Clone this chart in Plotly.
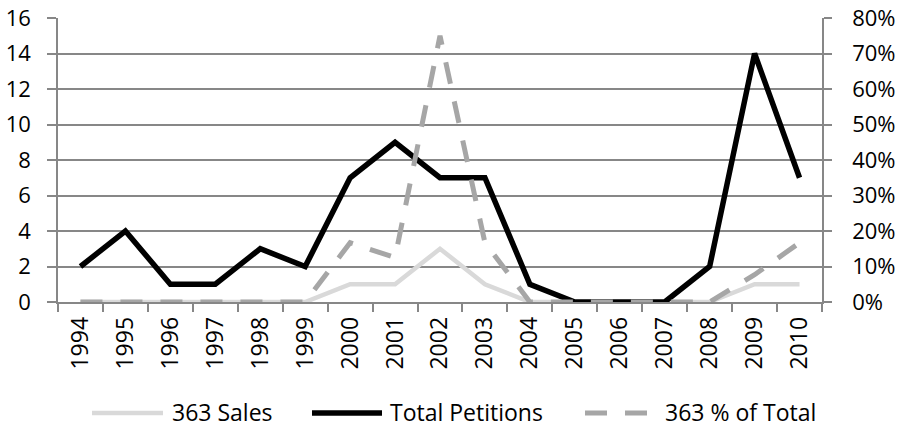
import plotly.graph_objects as go

years = [str(y) for y in range(1994, 2011)]
sales_363 = [0, 0, 0, 0, 0, 0, 1, 1, 3, 1, 0, 0, 0, 0, 0, 1, 1]
total_petitions = [2, 4, 1, 1, 3, 2, 7, 9, 7, 7, 1, 0, 0, 0, 2, 14, 7]
pct_of_total = [0, 0, 0, 0, 0, 0, 0.167, 0.125, 0.75, 0.167, 0, 0, 0, 0, 0, 0.077, 0.167]
series_names = ["363 Sales", "Total Petitions", "363 % of Total"]

FONT = "Open Sans"
GRID = "#878787"
FS = 23
FS_Y = 22
W, H = 899, 428
ML, MT = 58, 18
MR = W - 822
MB = H - 302
PW, PH = W - ML - MR, H - MT - MB

styles = [
    dict(color="#d9d9d9", width=4.5),
    dict(color="#000000", width=5.5),
    dict(color="#a6a6a6", width=5, dash="22px,18px"),
]

fig = go.Figure()
fig.add_trace(go.Scatter(x=years, y=sales_363, name=series_names[0], mode="lines",
                         line=styles[0]))
fig.add_trace(go.Scatter(x=years, y=total_petitions, name=series_names[1], mode="lines",
                         line=styles[1]))
fig.add_trace(go.Scatter(x=years, y=pct_of_total, name=series_names[2], mode="lines",
                         yaxis="y2", line=styles[2]))

# manual legend (page pixel positions converted to paper coordinates)
def px(x):
    return (x - ML) / PW

def py(y):
    return (H - MB - y) / PH

legend_items = [(92, 163, 170), (312, 382, 388), (585, 647, 663)]
ly = 412
for (x0, x1, tx), name, st in zip(legend_items, series_names, styles):
    fig.add_shape(type="line", xref="paper", yref="paper", x0=px(x0), x1=px(x1),
                  y0=py(ly + 1), y1=py(ly + 1), line=st)
    fig.add_annotation(xref="paper", yref="paper", x=px(tx), y=py(ly), text=name,
                       showarrow=False, xanchor="left", yanchor="middle",
                       font=dict(family=FONT, size=FS, color="#000000"))

axis_common = dict(tickcolor=GRID, tickwidth=1.5, showline=True, linecolor=GRID,
                   linewidth=1.5, zeroline=False, automargin=False,
                   ticklabeloverflow="allow", ticks="outside")

fig.update_layout(
    width=W, height=H,
    margin=dict(l=ML, r=MR, t=MT, b=MB),
    paper_bgcolor="white", plot_bgcolor="white",
    font=dict(family=FONT, size=FS, color="#000000"),
    showlegend=False,
    xaxis=dict(type="category", range=[-0.5, 16.5], tickson="boundaries",
               ticklen=8, tickangle=-90, showgrid=False, ticklabelstandoff=4,
               tickfont=dict(size=FS), **axis_common),
    yaxis=dict(range=[0, 16], dtick=2, ticklen=9, showgrid=True, gridcolor=GRID,
               gridwidth=1.5, ticklabelstandoff=12, tickfont=dict(size=FS_Y),
               **axis_common),
    yaxis2=dict(range=[0, 0.8], dtick=0.1, tickformat=".0%", overlaying="y", side="right",
                ticklen=8, showgrid=False, ticklabelstandoff=16, tickfont=dict(size=FS_Y),
                **axis_common),
)

fig.write_html("out.html", config={"displayModeBar": False},
               post_script="document.body.style.margin='0px';document.body.style.overflow='hidden';")
